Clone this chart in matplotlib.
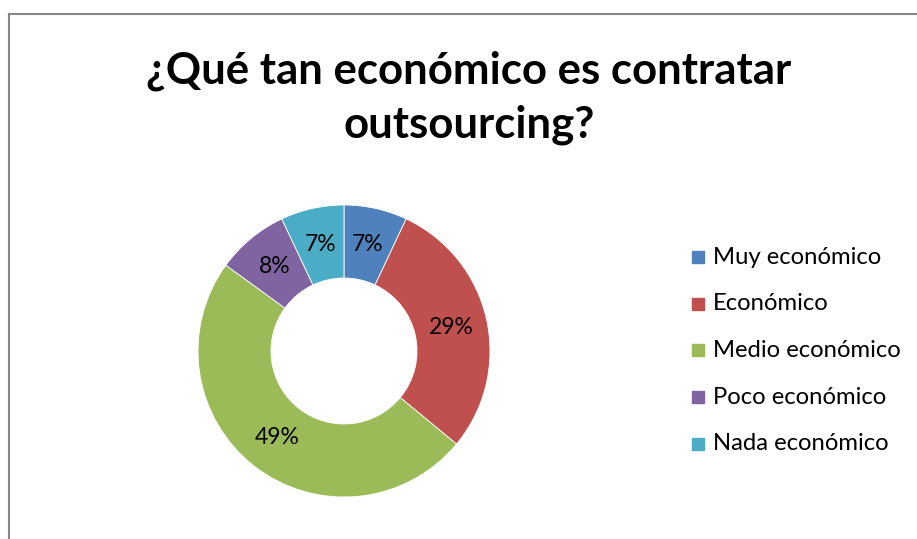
import matplotlib
matplotlib.use("Agg")
import matplotlib.pyplot as plt
import numpy as np

# Datos
categorias = ["Muy económico", "Económico", "Medio económico", "Poco económico", "Nada económico"]
valores = [7, 29, 49, 8, 7]
colores = ["#4F81BD", "#C0504D", "#9BBB59", "#8064A2", "#4BACC6"]
titulo = "¿Qué tan económico es contratar\noutsourcing?"

plt.rcParams['font.family'] = ['Lato', 'DejaVu Sans']

W, H = 917, 539
fig = plt.figure(figsize=(W / 100, H / 100), dpi=100)

# Cadre du graphique (bords gauche et haut visibles)
fig.add_artist(plt.Line2D([9 / W, 9 / W], [0, 1 - 14 / H], color="#868686", lw=1.5))
fig.add_artist(plt.Line2D([9 / W, 1], [1 - 14 / H, 1 - 14 / H], color="#868686", lw=1.5))

fig.text(469 / W, 1 - 98 / H, titulo, ha="center", va="center", fontsize=31.5,
         fontweight="bold", linespacing=1.4, color="black")

# Donut
cx, cy, r = 344, 351, 146
ax = fig.add_axes([(cx - r) / W, (H - cy - r) / H, 2 * r / W, 2 * r / H])
wedges, _ = ax.pie(valores, colors=colores, startangle=90, counterclock=False,
                   radius=1, wedgeprops=dict(width=0.5, edgecolor="white", linewidth=0.6))
ax.set_xlim(-1, 1)
ax.set_ylim(-1, 1)
ax.set_aspect("equal")
ax.axis("off")

# Étiquettes au milieu de l'anneau
for w, v in zip(wedges, valores):
    ang = np.deg2rad((w.theta1 + w.theta2) / 2)
    ax.text(0.75 * np.cos(ang), 0.75 * np.sin(ang), f"{v}%", ha="center", va="center",
            fontsize=16.5, color="black")

# Légende
for i, (c, lab) in enumerate(zip(colores, categorias)):
    y = 1 - (257 + i * 46.7) / H
    fig.add_artist(plt.Rectangle((692 / W, y - 6 / H), 12 / W, 12 / H, color=c))
    fig.text(713 / W, y, lab, ha="left", va="center", fontsize=17.2, color="black")

fig.savefig("out.png", dpi=100)
